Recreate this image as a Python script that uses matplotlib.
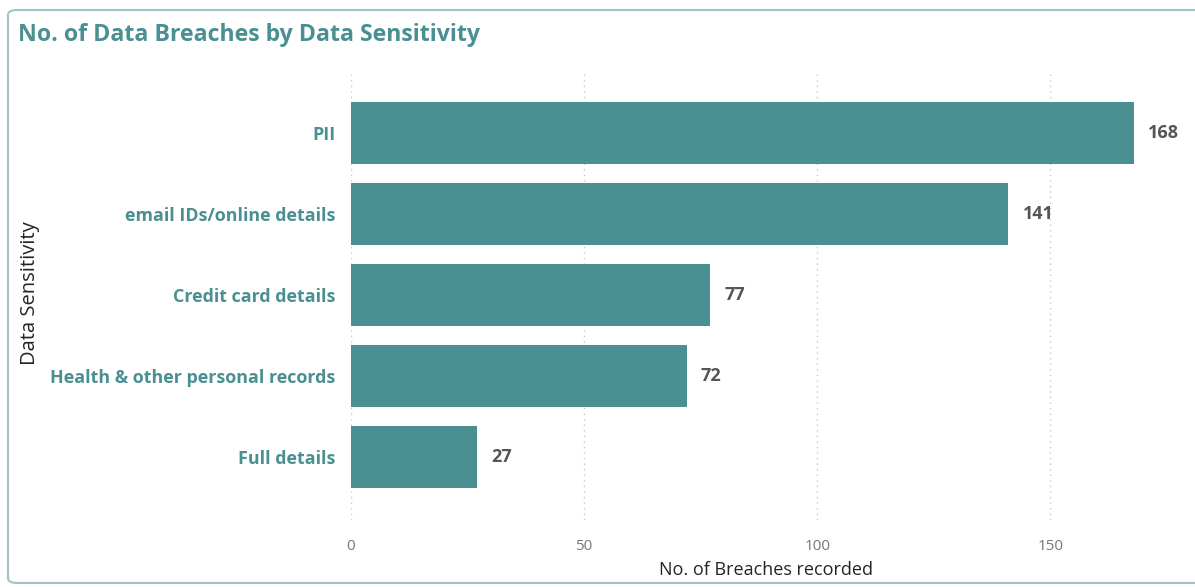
import matplotlib.pyplot as plt
from matplotlib.patches import FancyBboxPatch

categories = ['PII', 'email IDs/online details', 'Credit card details',
              'Health & other personal records', 'Full details']
breaches = [168, 141, 77, 72, 27]
xticks = [0, 50, 100, 150]

teal = '#4A8F92'
fig = plt.figure(figsize=(11.95, 5.87), dpi=100)

# card border
fig.patches.append(FancyBboxPatch((8/1195, 4/587), 1.05, 573/587,
                                  boxstyle='round,pad=0,rounding_size=0.008',
                                  transform=fig.transFigure, fill=False,
                                  edgecolor='#9CC5C8', linewidth=1.5))

ax = fig.add_axes([351/1195, 67/587, 830/1195, 450/587])
pos = range(len(categories))
ax.barh(pos, breaches, height=0.77, color=teal, zorder=2)
for i, v in enumerate(breaches):
    ax.text(v + 3, i, str(v), va='center', ha='left', fontsize=13,
            fontweight='bold', color='#555555', family='Open Sans')

ax.set_xlim(0, 178)
ax.set_ylim(4.78, -0.78)
ax.set_yticks(list(pos))
ax.set_yticklabels(categories, fontsize=12.9, fontweight='bold', color=teal,
                   family='Open Sans')
ax.set_xticks(xticks)
ax.set_xticklabels([str(t) for t in xticks], fontsize=11, color='#777777',
                   family='Open Sans')
ax.tick_params(length=0, axis='both')
ax.tick_params(axis='x', pad=14)
ax.tick_params(axis='y', pad=11)
for t in xticks:
    ax.axvline(t, color='#C8C8C8', linestyle=(0, (1, 3)), linewidth=1, zorder=1)
for s in ax.spines.values():
    s.set_visible(False)

ax.set_xlabel('No. of Breaches recorded', fontsize=13, color='#252423',
              family='Open Sans', labelpad=5)
fig.text(30/1195, 1 - 293/587, 'Data Sensitivity', rotation=90, ha='center',
         va='center', fontsize=14.5, color='#252423', family='Open Sans')
fig.text(18/1195, 1 - 35/587, 'No. of Data Breaches by Data Sensitivity',
         ha='left', va='center', fontsize=16.7, fontweight='bold', color=teal,
         family='Open Sans')

fig.savefig('out.png', dpi=100)
